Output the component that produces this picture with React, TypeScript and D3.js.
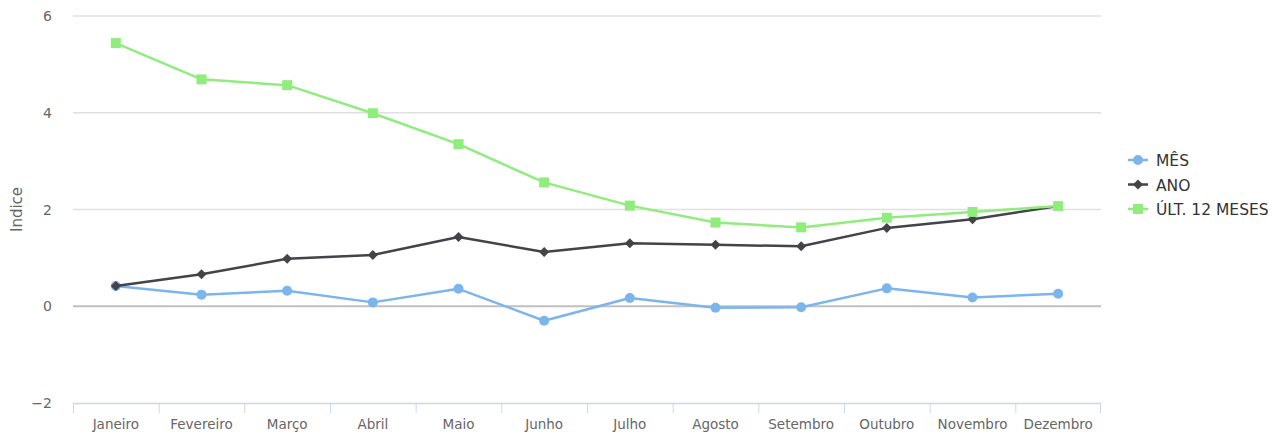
import React from 'react';
import * as d3 from 'd3';

const months = ['Janeiro', 'Fevereiro', 'Março', 'Abril', 'Maio', 'Junho', 'Julho', 'Agosto', 'Setembro', 'Outubro', 'Novembro', 'Dezembro'];
const mes = [0.42, 0.24, 0.32, 0.08, 0.36, -0.30, 0.17, -0.03, -0.02, 0.37, 0.18, 0.26];
const ano = [0.42, 0.66, 0.98, 1.06, 1.43, 1.12, 1.30, 1.27, 1.24, 1.62, 1.80, 2.07];
const ult12 = [5.44, 4.69, 4.57, 3.99, 3.35, 2.56, 2.08, 1.73, 1.63, 1.83, 1.95, 2.07];
const yTicks = [-2, 0, 2, 4, 6];

const series = [
  { name: 'MÊS', values: mes, color: '#7cb5ec', symbol: 'circle' },
  { name: 'ANO', values: ano, color: '#434348', symbol: 'diamond' },
  { name: 'ÚLT. 12 MESES', values: ult12, color: '#90ed7d', symbol: 'square' },
];

const W = 1286, H = 437;
const left = 73, right = 1101, top = 16, bottom = 403;
const font = '"DejaVu Sans", sans-serif';

const Marker = ({ symbol, x, y, color }: { symbol: string; x: number; y: number; color: string }) => {
  if (symbol === 'circle') return <circle cx={x} cy={y} r={5} fill={color} />;
  if (symbol === 'diamond') return <path d={`M${x},${y - 5}L${x + 5},${y}L${x},${y + 5}L${x - 5},${y}Z`} fill={color} />;
  return <rect x={x - 5} y={y - 5} width={10} height={10} fill={color} />;
};

export default function App() {
  const x = d3.scaleBand<string>().domain(months).range([left, right]);
  const y = d3.scaleLinear().domain([-2, 6]).range([bottom, top]);
  const cx = (m: string) => (x(m) as number) + x.bandwidth() / 2;
  const line = d3.line<number>().x((_, i) => cx(months[i])).y(d => y(d));

  return (
    <svg width={W} height={H} style={{ position: 'absolute', left: 0, top: 0 }}>
      <rect width={W} height={H} fill="#fff" />
      {yTicks.map(t => (
        <g key={t}>
          {t !== -2 && (
            <line x1={left} x2={right} y1={y(t)} y2={y(t)}
              stroke={t === 0 ? '#c0c0c0' : '#e0e0e0'} strokeWidth={t === 0 ? 2 : 1.5} />
          )}
          <text x={52} y={y(t) + 5} textAnchor="end" fontFamily={font} fontSize={14} fill="#666">
            {t < 0 ? '−' + Math.abs(t) : t}
          </text>
        </g>
      ))}
      <line x1={left} x2={right} y1={bottom + 0.5} y2={bottom + 0.5} stroke="#ccd6eb" strokeWidth={1.5} />
      {months.map((m, i) => (
        <line key={'t' + i} x1={(x(m) as number) + 0.5} x2={(x(m) as number) + 0.5} y1={bottom} y2={bottom + 10} stroke="#ccd6eb" />
      ))}
      <line x1={right - 0.5} x2={right - 0.5} y1={bottom} y2={bottom + 10} stroke="#ccd6eb" />
      {months.map(m => (
        <text key={m} x={cx(m)} y={429} textAnchor="middle" fontFamily={font} fontSize={13.5} fill="#666">{m}</text>
      ))}
      <text transform={`translate(22,${(top + bottom) / 2}) rotate(-90)`} textAnchor="middle"
        fontFamily={font} fontSize={15} fill="#666">Indice</text>
      {series.map(s => (
        <g key={s.name}>
          <path d={line(s.values) as string} fill="none" stroke={s.color} strokeWidth={2.5} strokeLinejoin="round" />
          {s.values.map((v, i) => (
            <Marker key={i} symbol={s.symbol} x={cx(months[i])} y={y(v)} color={s.color} />
          ))}
        </g>
      ))}
      {series.map((s, i) => {
        const ly = 160 + i * 24.5;
        return (
          <g key={'l' + s.name}>
            <line x1={1128} x2={1148} y1={ly} y2={ly} stroke={s.color} strokeWidth={2.5} />
            <Marker symbol={s.symbol} x={1138} y={ly} color={s.color} />
            <text x={1156} y={ly + 6} fontFamily={font} fontSize={15.5} fill="#333">{s.name}</text>
          </g>
        );
      })}
    </svg>
  );
}
